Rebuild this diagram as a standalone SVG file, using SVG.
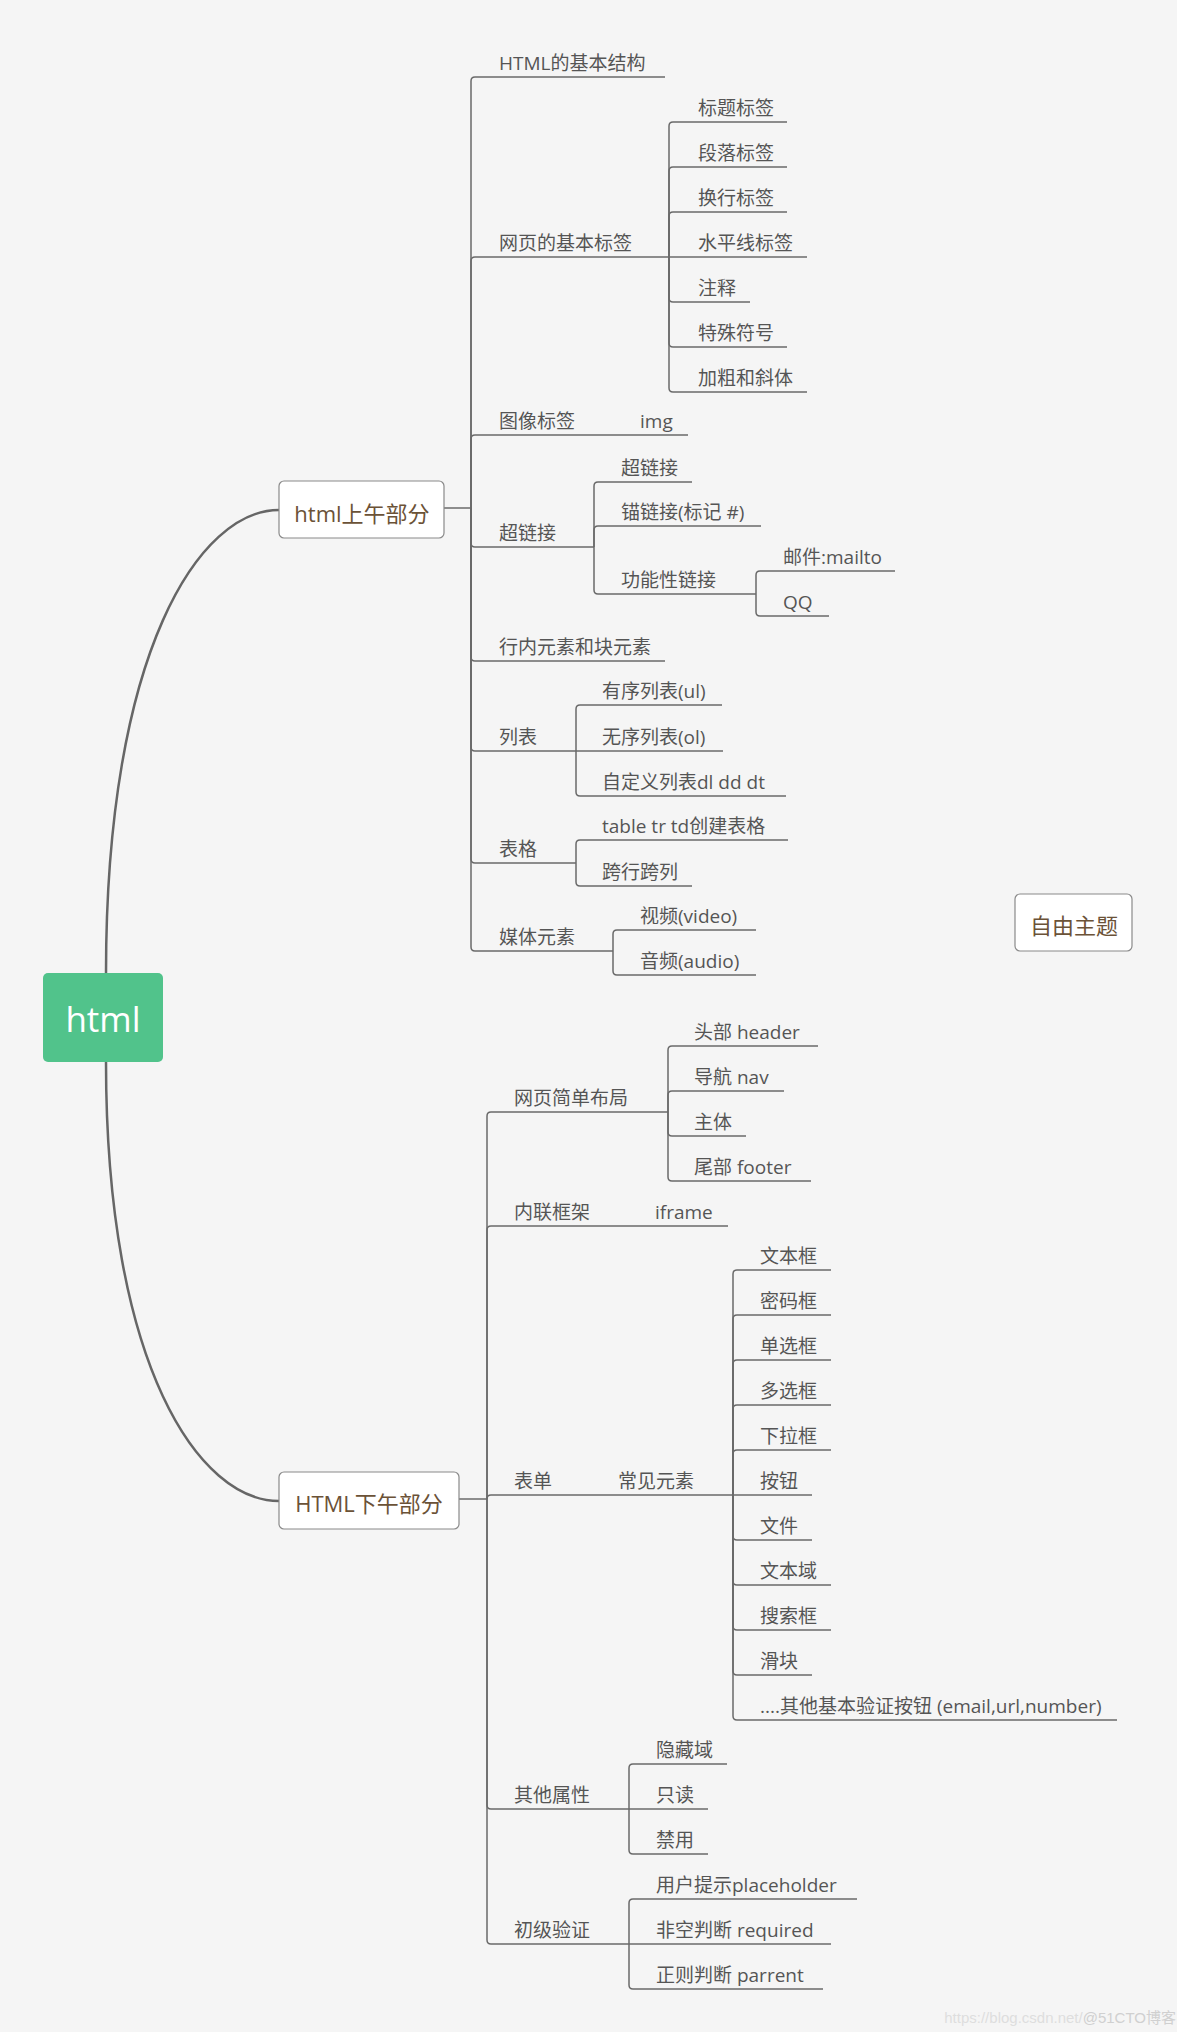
<svg xmlns="http://www.w3.org/2000/svg" width="1184" height="2044" viewBox="0 0 1184 2044">
<style>
.bg{fill:#f5f5f5}
.main{fill:none;stroke:#666;stroke-width:2.5}
.br{fill:none;stroke:#6a6a6a;stroke-width:1.5}
.t{font-family:"Open Sans","Noto Sans CJK SC",sans-serif;font-size:19px;fill:#555555}
.mt{font-family:"Open Sans","Noto Sans CJK SC",sans-serif;font-size:22px;fill:#6b5237;text-anchor:middle}
.box{fill:#fff;stroke:#8a8a8a;stroke-width:1.2}
</style>
<rect x="0" y="0" width="1184" height="2044" fill="#ffffff"/>
<rect class="bg" x="0" y="0" width="1177" height="2032"/>
<g id="connectors">
<path class="main" d="M106,973 C106,650 200,510 279,510"/>
<path class="main" d="M106,1062 C106,1368 200,1501 279,1501"/>
<path class="br" d="M444,508 H471"/>
<path class="br" d="M471,508 V81 Q471,77 475,77 H665"/>
<path class="br" d="M471,508 V261 Q471,257 475,257 H669"/>
<path class="br" d="M471,508 V439 Q471,435 475,435 H688"/>
<path class="br" d="M471,508 V543 Q471,547 475,547 H594"/>
<path class="br" d="M471,508 V657 Q471,661 475,661 H665"/>
<path class="br" d="M471,508 V747 Q471,751 475,751 H576"/>
<path class="br" d="M471,508 V859 Q471,863 475,863 H576"/>
<path class="br" d="M471,508 V947 Q471,951 475,951 H613"/>
<path class="br" d="M669,257 V126 Q669,122 673,122 H787"/>
<path class="br" d="M669,257 V171 Q669,167 673,167 H787"/>
<path class="br" d="M669,257 V216 Q669,212 673,212 H787"/>
<path class="br" d="M669,257 H807"/>
<path class="br" d="M669,257 V298 Q669,302 673,302 H750"/>
<path class="br" d="M669,257 V343 Q669,347 673,347 H787"/>
<path class="br" d="M669,257 V388 Q669,392 673,392 H807"/>
<path class="br" d="M594,547 V486 Q594,482 598,482 H692"/>
<path class="br" d="M594,547 V530 Q594,526 598,526 H761"/>
<path class="br" d="M594,547 V590 Q594,594 598,594 H756"/>
<path class="br" d="M756,594 V575 Q756,571 760,571 H895"/>
<path class="br" d="M756,594 V612 Q756,616 760,616 H829"/>
<path class="br" d="M576,751 V709 Q576,705 580,705 H722"/>
<path class="br" d="M576,751 H723"/>
<path class="br" d="M576,751 V792 Q576,796 580,796 H786"/>
<path class="br" d="M576,863 V844 Q576,840 580,840 H788"/>
<path class="br" d="M576,863 V882 Q576,886 580,886 H692"/>
<path class="br" d="M613,951 V934 Q613,930 617,930 H756"/>
<path class="br" d="M613,951 V971 Q613,975 617,975 H756"/>
<path class="br" d="M459,1499 H487"/>
<path class="br" d="M487,1499 V1116 Q487,1112 491,1112 H668"/>
<path class="br" d="M487,1499 V1230 Q487,1226 491,1226 H728"/>
<path class="br" d="M487,1499 Q487,1495 491,1495 H733"/>
<path class="br" d="M487,1499 V1805 Q487,1809 491,1809 H629"/>
<path class="br" d="M487,1499 V1940 Q487,1944 491,1944 H629"/>
<path class="br" d="M668,1112 V1050 Q668,1046 672,1046 H818"/>
<path class="br" d="M668,1112 V1095 Q668,1091 672,1091 H784"/>
<path class="br" d="M668,1112 V1132 Q668,1136 672,1136 H746"/>
<path class="br" d="M668,1112 V1177 Q668,1181 672,1181 H811"/>
<path class="br" d="M733,1495 V1274 Q733,1270 737,1270 H831"/>
<path class="br" d="M733,1495 V1319 Q733,1315 737,1315 H831"/>
<path class="br" d="M733,1495 V1364 Q733,1360 737,1360 H831"/>
<path class="br" d="M733,1495 V1409 Q733,1405 737,1405 H831"/>
<path class="br" d="M733,1495 V1454 Q733,1450 737,1450 H831"/>
<path class="br" d="M733,1495 H812"/>
<path class="br" d="M733,1495 V1536 Q733,1540 737,1540 H812"/>
<path class="br" d="M733,1495 V1581 Q733,1585 737,1585 H831"/>
<path class="br" d="M733,1495 V1626 Q733,1630 737,1630 H831"/>
<path class="br" d="M733,1495 V1671 Q733,1675 737,1675 H812"/>
<path class="br" d="M733,1495 V1716 Q733,1720 737,1720 H1117"/>
<path class="br" d="M629,1809 V1768 Q629,1764 633,1764 H727"/>
<path class="br" d="M629,1809 H708"/>
<path class="br" d="M629,1809 V1850 Q629,1854 633,1854 H708"/>
<path class="br" d="M629,1944 V1903 Q629,1899 633,1899 H857"/>
<path class="br" d="M629,1944 H831"/>
<path class="br" d="M629,1944 V1985 Q629,1989 633,1989 H823"/>
</g>
<g id="root">
<rect x="43" y="973" width="120" height="89" rx="5" fill="#51c38b"/>
<text x="103" y="1032" font-family="Open Sans, Noto Sans CJK SC, sans-serif" font-size="35" fill="#ffffff" text-anchor="middle">html</text>
</g>
<g id="am">
<rect class="box" x="279" y="481" width="165" height="57" rx="5"/>
<text class="mt" x="362" y="522">html上午部分</text>
</g>
<g id="pm">
<rect class="box" x="279" y="1472" width="180" height="57" rx="5"/>
<text class="mt" x="369" y="1512">HTML下午部分</text>
</g>
<g id="free">
<rect class="box" x="1015" y="894" width="117" height="57" rx="5"/>
<text class="mt" x="1074" y="934">自由主题</text>
</g>
<g id="am-children">
<g id="n-structure"><text class="t" x="499" y="70">HTML的基本结构</text></g>
<g id="n-basic"><text class="t" x="499" y="250">网页的基本标签</text></g>
<g id="n-b1"><text class="t" x="698" y="115">标题标签</text></g>
<g id="n-b2"><text class="t" x="698" y="160">段落标签</text></g>
<g id="n-b3"><text class="t" x="698" y="205">换行标签</text></g>
<g id="n-b4"><text class="t" x="698" y="250">水平线标签</text></g>
<g id="n-b5"><text class="t" x="698" y="295">注释</text></g>
<g id="n-b6"><text class="t" x="698" y="340">特殊符号</text></g>
<g id="n-b7"><text class="t" x="698" y="385">加粗和斜体</text></g>
<g id="n-img"><text class="t" x="499" y="428">图像标签</text></g>
<g id="n-img1"><text class="t" x="640" y="428">img</text></g>
<g id="n-link"><text class="t" x="499" y="540">超链接</text></g>
<g id="n-l1"><text class="t" x="621" y="475">超链接</text></g>
<g id="n-l2"><text class="t" x="621" y="519">锚链接(标记 #)</text></g>
<g id="n-l3"><text class="t" x="621" y="587">功能性链接</text></g>
<g id="n-l31"><text class="t" x="783" y="564">邮件:mailto</text></g>
<g id="n-l32"><text class="t" x="783" y="609">QQ</text></g>
<g id="n-inline"><text class="t" x="499" y="654">行内元素和块元素</text></g>
<g id="n-list"><text class="t" x="499" y="744">列表</text></g>
<g id="n-list1"><text class="t" x="602" y="698">有序列表(ul)</text></g>
<g id="n-list2"><text class="t" x="602" y="744">无序列表(ol)</text></g>
<g id="n-list3"><text class="t" x="602" y="789">自定义列表dl dd dt</text></g>
<g id="n-table"><text class="t" x="499" y="856">表格</text></g>
<g id="n-table1"><text class="t" x="602" y="833">table tr td创建表格</text></g>
<g id="n-table2"><text class="t" x="602" y="879">跨行跨列</text></g>
<g id="n-media"><text class="t" x="499" y="944">媒体元素</text></g>
<g id="n-media1"><text class="t" x="640" y="923">视频(video)</text></g>
<g id="n-media2"><text class="t" x="640" y="968">音频(audio)</text></g>
</g>
<g id="pm-children">
<g id="n-layout"><text class="t" x="514" y="1105">网页简单布局</text></g>
<g id="n-lay1"><text class="t" x="694" y="1039">头部 header</text></g>
<g id="n-lay2"><text class="t" x="694" y="1084">导航 nav</text></g>
<g id="n-lay3"><text class="t" x="694" y="1129">主体</text></g>
<g id="n-lay4"><text class="t" x="694" y="1174">尾部 footer</text></g>
<g id="n-iframe"><text class="t" x="514" y="1219">内联框架</text></g>
<g id="n-iframe1"><text class="t" x="655" y="1219">iframe</text></g>
<g id="n-form"><text class="t" x="514" y="1488">表单</text></g>
<g id="n-common"><text class="t" x="618" y="1488">常见元素</text></g>
<g id="n-f1"><text class="t" x="760" y="1263">文本框</text></g>
<g id="n-f2"><text class="t" x="760" y="1308">密码框</text></g>
<g id="n-f3"><text class="t" x="760" y="1353">单选框</text></g>
<g id="n-f4"><text class="t" x="760" y="1398">多选框</text></g>
<g id="n-f5"><text class="t" x="760" y="1443">下拉框</text></g>
<g id="n-f6"><text class="t" x="760" y="1488">按钮</text></g>
<g id="n-f7"><text class="t" x="760" y="1533">文件</text></g>
<g id="n-f8"><text class="t" x="760" y="1578">文本域</text></g>
<g id="n-f9"><text class="t" x="760" y="1623">搜索框</text></g>
<g id="n-f10"><text class="t" x="760" y="1668">滑块</text></g>
<g id="n-f11"><text class="t" x="760" y="1713">....其他基本验证按钮 (email,url,number)</text></g>
<g id="n-attr"><text class="t" x="514" y="1802">其他属性</text></g>
<g id="n-a1"><text class="t" x="656" y="1757">隐藏域</text></g>
<g id="n-a2"><text class="t" x="656" y="1802">只读</text></g>
<g id="n-a3"><text class="t" x="656" y="1847">禁用</text></g>
<g id="n-valid"><text class="t" x="514" y="1937">初级验证</text></g>
<g id="n-v1"><text class="t" x="656" y="1892">用户提示placeholder</text></g>
<g id="n-v2"><text class="t" x="656" y="1937">非空判断 required</text></g>
<g id="n-v3"><text class="t" x="656" y="1982">正则判断 parrent</text></g>
</g>
<text x="1176" y="2023" font-family="Liberation Sans, Noto Sans CJK SC, sans-serif" font-size="15" text-anchor="end" fill="#dedede">https://blog.csdn.net/<tspan fill="#d0d0d0">@51CTO博客</tspan></text>
</svg>
